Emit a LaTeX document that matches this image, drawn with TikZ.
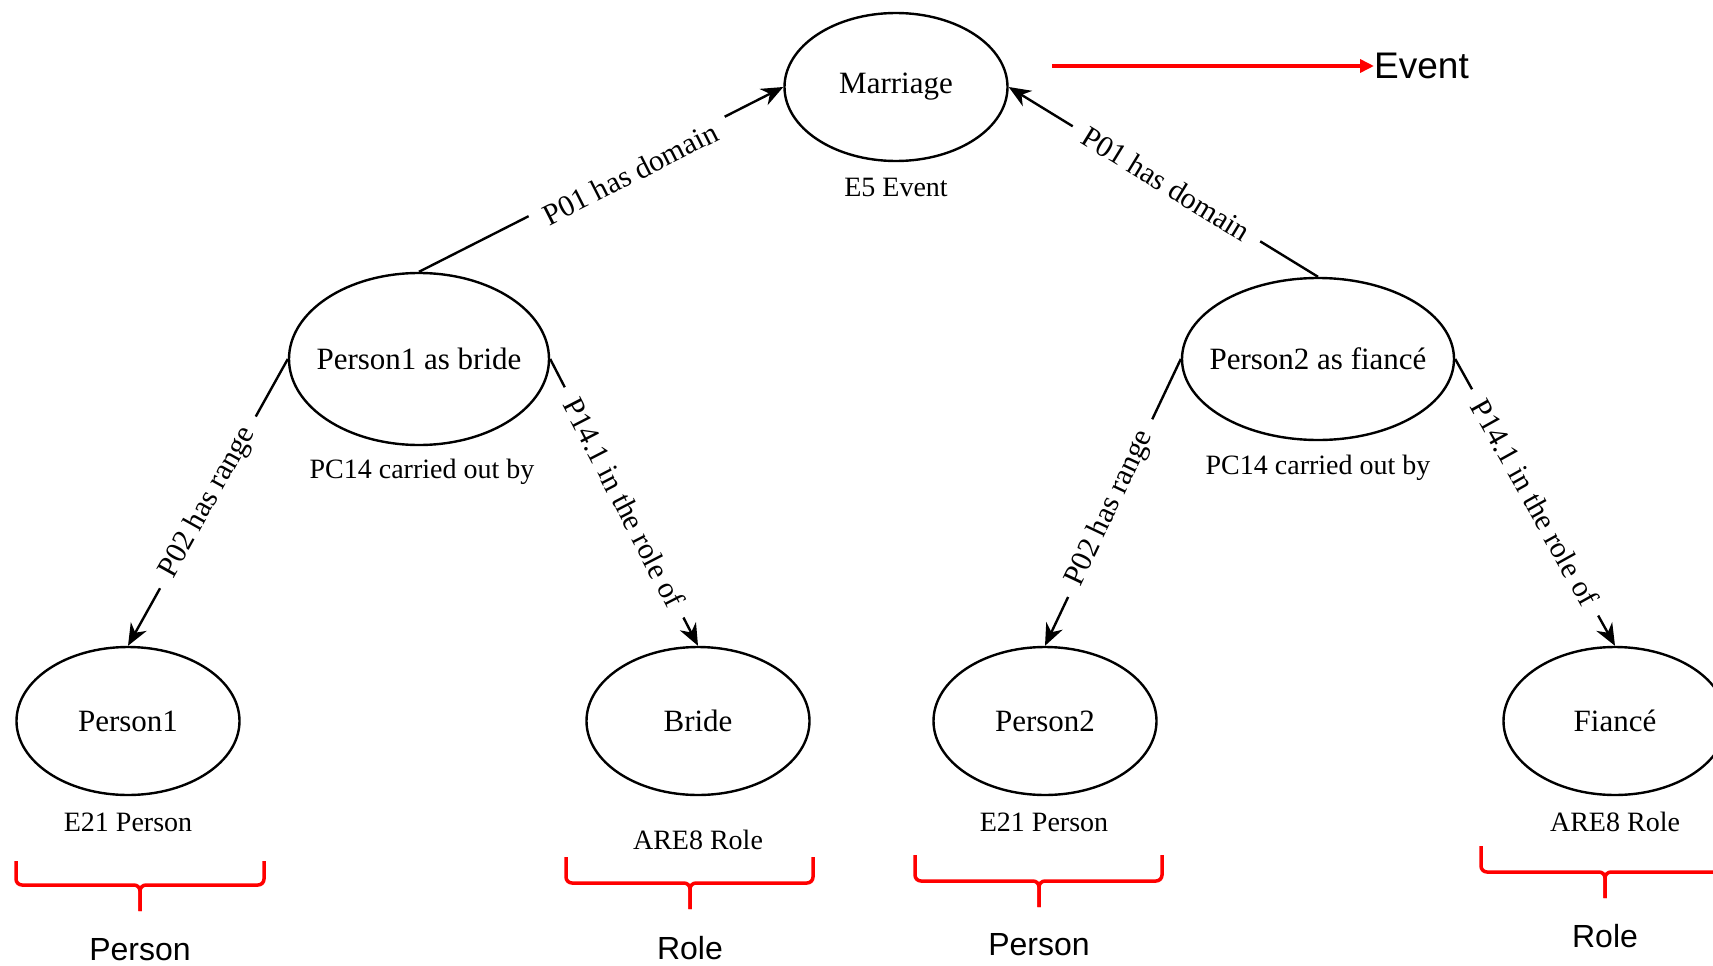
\documentclass[tikz,border=0pt]{standalone}
\usepackage{fontspec}
\setmainfont{Liberation Serif}
\newfontfamily\sansf{Liberation Sans}
\usetikzlibrary{arrows.meta,shapes.geometric}
\begin{document}
\begin{tikzpicture}[x=1pt,y=-1pt,
  ell/.style={draw, ellipse, line width=2.4pt, inner sep=0pt, minimum width=223pt, minimum height=148pt, font=\fontsize{31}{36}\selectfont},
  sub/.style={font=\fontsize{28}{32}\selectfont, inner sep=0pt},
  rel/.style={line width=2.4pt, -{Stealth[length=22pt,width=18pt,inset=7pt]}},
  lab/.style={sloped, fill=white, inner xsep=14pt, inner ysep=1pt, font=\fontsize{30}{34}\selectfont},
  brace/.style={red, line width=3.5pt, rounded corners=6pt},
  cat/.style={font=\sansf\fontsize{32}{36}\selectfont, inner sep=0pt}]
\useasboundingbox (0,0) rectangle (1713,966);

% ellipses
\node[ell] (m) at (896,87) {\makebox[0pt]{Marriage}};
\node[ell, minimum width=260pt, minimum height=172pt] (pb) at (419,359) {\makebox[0pt]{Person1 as bride}};
\node[ell, minimum width=272pt, minimum height=162pt] (pf) at (1318,359) {\makebox[0pt]{Person2 as fianc\'e}};
\node[ell] (p1) at (128,721) {\makebox[0pt]{Person1}};
\node[ell] (br) at (698,721) {\makebox[0pt]{Bride}};
\node[ell] (p2) at (1045,721) {\makebox[0pt]{Person2}};
\node[ell] (fi) at (1615,721) {\makebox[0pt]{Fianc\'e}};

% class labels
\node[sub] (lm) at (896,187) {E5 Event};
\node[sub] (lpb) at (422,472) {PC14 carried out by};
\node[sub] (lpf) at (1318,468) {PC14 carried out by};
\node[sub] (lp1) at (128,822) {E21 Person};
\node[sub] (lbr) at (698,840) {ARE8 Role};
\node[sub] (lp2) at (1044,822) {E21 Person};
\node[sub] (lfi) at (1615,822) {ARE8 Role};

% relations
\draw[rel] (pb.north) -- node[lab, pos=0.57, yshift=-8pt] {P01 has domain} (m.west);
\draw[rel] (pf.north) -- node[lab, pos=0.49] {P01 has domain} (m.east);
\draw[rel] (pb.west) -- node[lab] {P02 has range} (p1.north);
\draw[rel] (pb.east) -- node[lab] {P14.1 in the role of} (br.north);
\draw[rel] (pf.west) -- node[lab, pos=0.52] {P02 has range} (p2.north);
\draw[rel] (pf.east) -- node[lab] {P14.1 in the role of} (fi.north);

% event annotation
\node[font=\sansf\fontsize{37}{40}\selectfont, inner sep=0pt, anchor=west] (ev) at (1374,66) {Event};
\coordinate (evs) at (1052,66);
\draw[red, line width=3.5pt, -{Triangle[length=14pt,width=13pt]}] (evs) -- (ev.west);

% braces
\draw[brace] (16,861) -- (16,885) -- (140,885) -- (140,911);
\draw[brace] (264,861) -- (264,885) -- (140,885) -- (140,911);
\node[cat] (c1) at (140,950) {Person};

\draw[brace] (566,857) -- (566,883) -- (690,883) -- (690,909);
\draw[brace] (813,857) -- (813,883) -- (690,883) -- (690,909);
\node[cat] (c2) at (690,948) {Role};

\draw[brace] (915,855) -- (915,881) -- (1039,881) -- (1039,907);
\draw[brace] (1162,855) -- (1162,881) -- (1039,881) -- (1039,907);
\node[cat] (c3) at (1039,945) {Person};

\draw[brace] (1481,846) -- (1481,872) -- (1605,872) -- (1605,898);
\draw[brace] (1729,846) -- (1729,872) -- (1605,872) -- (1605,898);
\node[cat] (c4) at (1605,936) {Role};
\end{tikzpicture}
\end{document}
